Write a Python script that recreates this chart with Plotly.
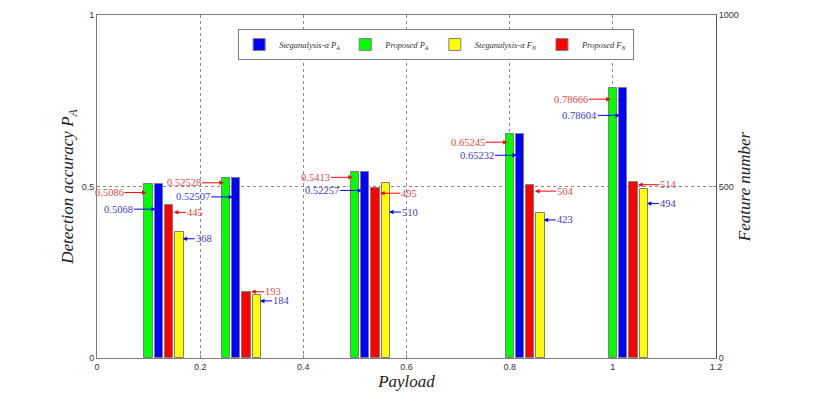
import plotly.graph_objects as go

# data
payload = [0.1, 0.25, 0.5, 0.8, 1.0]
proposed_pa = [0.5086, 0.52528, 0.5413, 0.65245, 0.78666]
stega_pa = [0.5068, 0.52507, 0.5410, 0.65232, 0.78604]   # bar heights as drawn
stega_pa_labels = ["0.5068", "0.52507", "0.52257", "0.65232", "0.78604"]
proposed_fn = [445, 193, 495, 504, 514]
stega_fn = [368, 184, 510, 423, 494]

# annotation placement (pixels)
pa_red_drop = [9, 5, 5, 8, 11]
pa_blue_drop = [25, 19, 18, 21, 27]
fn_red_drop = [7, 0, 5, 6, 3]
fn_red_ax = [12, 13, 20, 21, 21]
fn_blue_drop = [7, 6, 29, 7, 15]

SERIF = "Liberation Serif"
SANS = "Liberation Sans"
BAR_W = 0.016
OUTLINE = dict(color="#7f7f7f", width=1)
RED_TXT = "#e04848"
BLUE_TXT = "#3c3cc8"

fig = go.Figure()

fig.add_bar(x=[p + 0.02 for p in payload], y=stega_pa, width=BAR_W,
            marker=dict(color="#0000ff", line=OUTLINE),
            name="Steganalysis-α P<sub>A</sub>")
fig.add_bar(x=payload, y=proposed_pa, width=BAR_W,
            marker=dict(color="#00ff00", line=OUTLINE),
            name="Proposed P<sub>A</sub>")
fig.add_bar(x=[p + 0.06 for p in payload], y=stega_fn, width=BAR_W, yaxis="y2",
            marker=dict(color="#ffff00", line=OUTLINE),
            name="Steganalysis-α F<sub>N</sub>")
fig.add_bar(x=[p + 0.04 for p in payload], y=proposed_fn, width=BAR_W, yaxis="y2",
            marker=dict(color="#ff0000", line=OUTLINE),
            name="Proposed F<sub>N</sub>")

anns = []
for i, p in enumerate(payload):
    anns.append(dict(x=p - 0.004, y=proposed_pa[i], xref="x", yref="y",
                     yshift=-pa_red_drop[i], ax=-22, ay=0, xanchor="right",
                     text=str(proposed_pa[i]), font=dict(color=RED_TXT),
                     arrowcolor="#ff0000"))
    anns.append(dict(x=p + 0.014, y=stega_pa[i], xref="x", yref="y",
                     yshift=-pa_blue_drop[i], ax=-22, ay=0, xanchor="right",
                     text=stega_pa_labels[i], font=dict(color=BLUE_TXT),
                     arrowcolor="#0000ff"))
    anns.append(dict(x=p + 0.049, y=proposed_fn[i], xref="x", yref="y2",
                     yshift=-fn_red_drop[i], ax=fn_red_ax[i], ay=0, xanchor="left",
                     text=str(proposed_fn[i]), font=dict(color=RED_TXT),
                     arrowcolor="#ff0000"))
    anns.append(dict(x=p + 0.066, y=stega_fn[i], xref="x", yref="y2",
                     yshift=-fn_blue_drop[i], ax=12, ay=0, xanchor="left",
                     text=str(stega_fn[i]), font=dict(color=BLUE_TXT),
                     arrowcolor="#0000ff"))
for a in anns:
    a.update(showarrow=True, arrowhead=2, arrowsize=0.9, arrowwidth=1,
             standoff=0, borderpad=0)
    a["font"].update(family=SERIF, size=10.5)

# the page body keeps an 8px margin, so the figure is 8px smaller each way
fig.update_layout(
    width=820, height=386,
    margin=dict(l=89, r=112, t=7, b=36),
    paper_bgcolor="white", plot_bgcolor="white",
    barmode="overlay", bargap=0,
    showlegend=True,
    legend=dict(orientation="h", x=0.228, y=0.959, xanchor="left", yanchor="top",
                bgcolor="white", bordercolor="#7f7f7f", borderwidth=1,
                font=dict(family=SERIF, size=8.5, style="italic", color="#333333"),
                traceorder="normal", itemwidth=30, tracegroupgap=0),
    annotations=anns,
    xaxis=dict(range=[0, 1.2], tickvals=[0, 0.2, 0.4, 0.6, 0.8, 1.0, 1.2],
               ticktext=["0", "0.2", "0.4", "0.6", "0.8", "1", "1.2"],
               showgrid=True, gridcolor="#8a8a8a", griddash="dot", gridwidth=1,
               showline=True, linecolor="#7f7f7f", mirror=True,
               ticks="inside", ticklen=3, tickcolor="#7f7f7f",
               tickfont=dict(family=SANS, size=9, color="#333333"),
               zeroline=False, automargin=False,
               title=dict(text="Payload", standoff=1,
                          font=dict(family=SERIF, size=17, style="italic", color="#222222"))),
    yaxis=dict(range=[0, 1], tickvals=[0, 0.5, 1], ticktext=["0", "0.5", "1"],
               showgrid=True, gridcolor="#8a8a8a", griddash="dot", gridwidth=1,
               showline=True, linecolor="#7f7f7f", mirror=True,
               ticks="inside", ticklen=3, tickcolor="#7f7f7f",
               tickfont=dict(family=SANS, size=9, color="#333333"),
               zeroline=False, automargin=False,
               title=dict(text="Detection accuracy P<sub>A</sub>", standoff=3,
                          font=dict(family=SERIF, size=17, style="italic", color="#222222"))),
    yaxis2=dict(range=[0, 1000], tickvals=[0, 500, 1000], overlaying="y", side="right",
                showgrid=False, showline=True, linecolor="#555555",
                ticks="inside", ticklen=3, tickcolor="#7f7f7f",
                tickfont=dict(family=SANS, size=9, color="#333333"),
                zeroline=False, automargin=False,
                title=dict(text="Feature number", standoff=0,
                           font=dict(family=SERIF, size=17, style="italic", color="#222222"))),
)

fig.write_html("out.html")
